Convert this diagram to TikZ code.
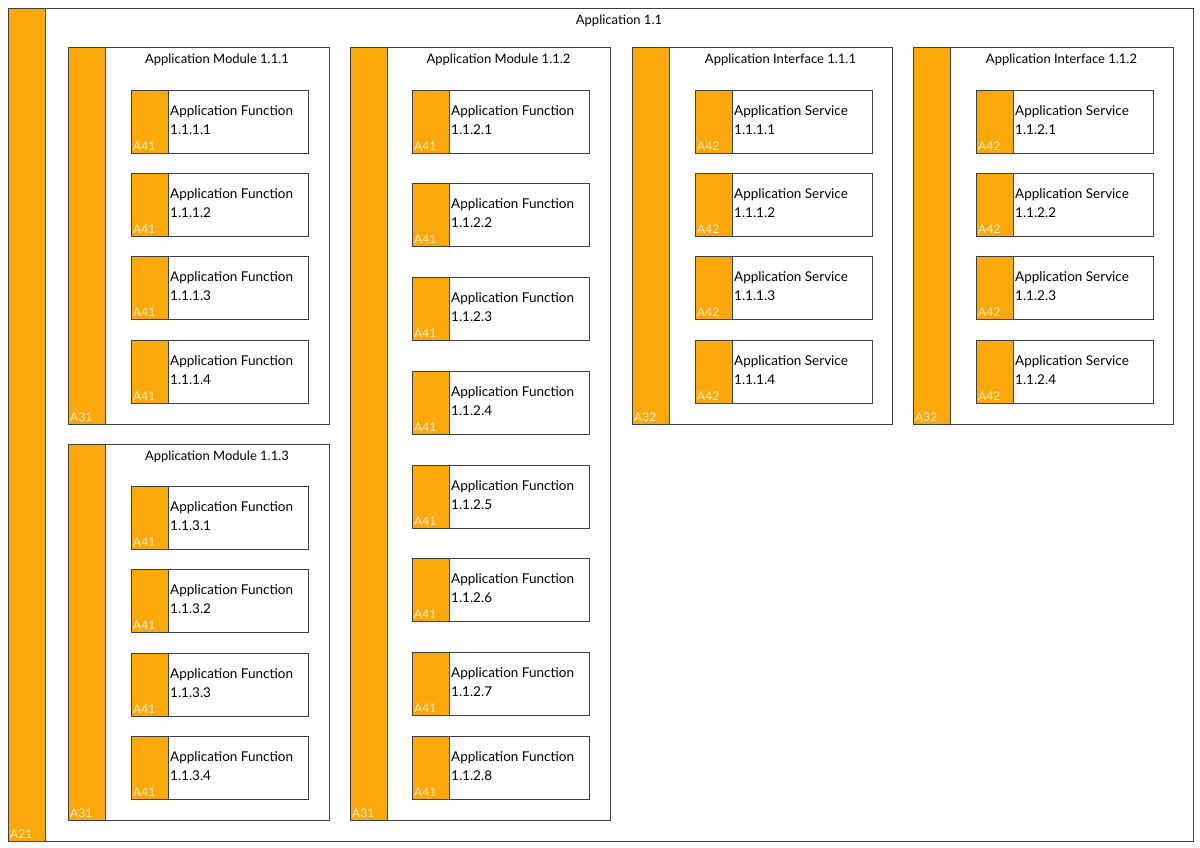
\documentclass[tikz,border=0pt]{standalone}
\usepackage{fontspec}
\setmainfont{Lato}
\definecolor{org}{RGB}{250,168,12}
\definecolor{lbl}{RGB}{255,236,200}
\tikzset{
 frame/.style={draw=black!75,line width=0.9pt,fill=white},
 bar/.style={draw=black!75,line width=0.9pt,fill=org},
 tag/.style={anchor=south west,text=lbl,font=\fontsize{12}{12}\selectfont,inner sep=2pt},
 ttl/.style={anchor=north,font=\fontsize{13}{15}\selectfont,inner sep=0pt},
 itxt/.style={anchor=north west,align=left,font=\fontsize{13.5}{19}\selectfont,inner sep=0pt}
}
\newcommand{\cont}[7]{% name x1 y1 x2 y2 title tag
 \draw[frame] (#2,#3) rectangle (#4,#5);
 \draw[bar] (#2,#3) rectangle (#2+37,#5);
 \node[ttl] (#1t) at ({(#2+37+#4)/2},#3+7) {#6};
 \node[tag] (#1g) at (#2,#5) {#7};}
\newcommand{\elem}[6]{% name x y1 y2 text tag
 \draw[frame] (#2,#3) rectangle (#2+177,#4);
 \draw[bar] (#2,#3) rectangle (#2+37,#4);
 \node[itxt] (#1) at (#2+39,#3+15) {#5};
 \node[tag] (#1g) at (#2,#4) {#6};}
\begin{document}
\begin{tikzpicture}[x=1pt,y=-1pt]
\useasboundingbox[fill=white] (0,0) rectangle (1200,847);
\cont{app}{8}{8}{1193}{841}{Application 1.1}{A21}
\cont{m1}{68}{47}{329}{424}{Application Module 1.1.1}{A31}
\cont{m3}{68}{444}{329}{820}{Application Module 1.1.3}{A31}
\cont{m2}{350}{47}{610}{820}{Application Module 1.1.2}{A31}
\cont{i1}{632}{47}{892}{424}{Application Interface 1.1.1}{A32}
\cont{i2}{913}{47}{1173}{424}{Application Interface 1.1.2}{A32}
\foreach \i/\a/\b in {1/90/153,2/173/236,3/256/319,4/340/403}{
 \elem{fa\i}{131}{\a}{\b}{Application Function\\1.1.1.\i}{A41}
 \elem{sa\i}{695}{\a}{\b}{Application Service\\1.1.1.\i}{A42}
 \elem{sb\i}{976}{\a}{\b}{Application Service\\1.1.2.\i}{A42}}
\foreach \i/\a/\b in {1/486/549,2/569/632,3/653/716,4/736/799}{
 \elem{fc\i}{131}{\a}{\b}{Application Function\\1.1.3.\i}{A41}}
\foreach \i/\a/\b in {1/90/153,2/183/246,3/277/340,4/371/434,5/465/528,6/558/621,7/652/715,8/736/799}{
 \elem{fb\i}{412}{\a}{\b}{Application Function\\1.1.2.\i}{A41}}
\end{tikzpicture}
\end{document}
